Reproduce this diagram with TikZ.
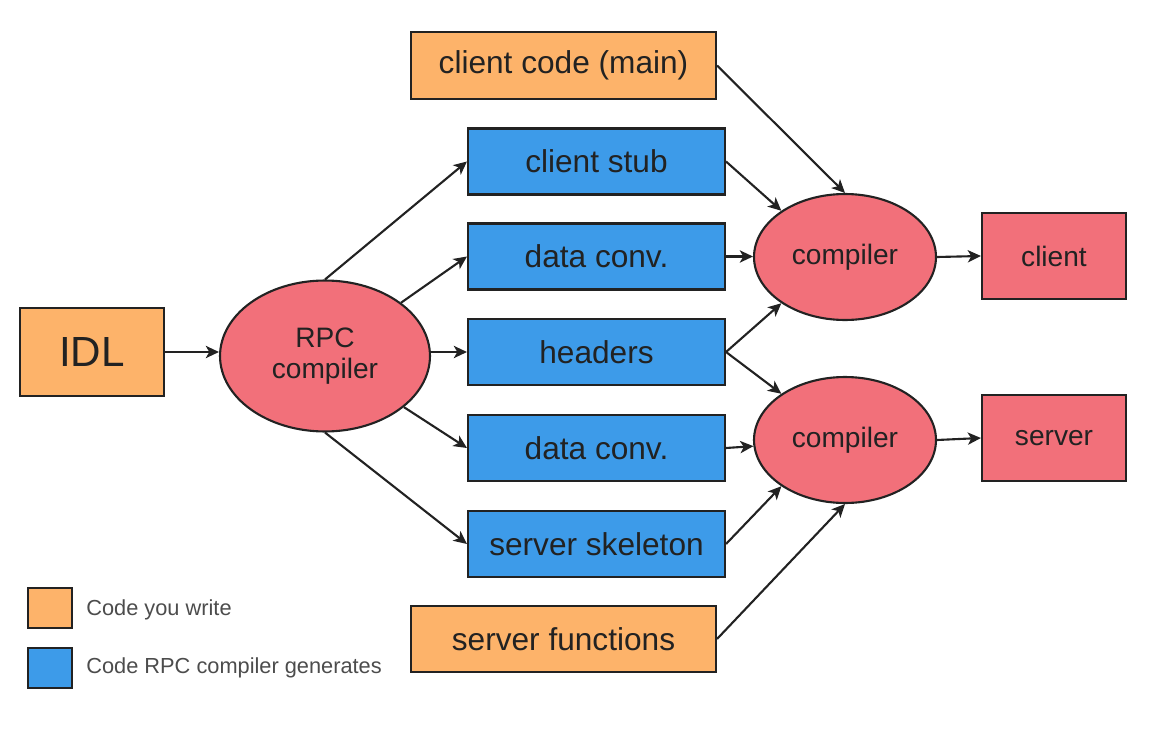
\documentclass[tikz,border=0pt]{standalone}
\usepackage{fontspec}
\setmainfont{Liberation Sans}
\usetikzlibrary{arrows.meta,shapes.geometric}
\definecolor{codeor}{HTML}{FDB36A}
\definecolor{genblue}{HTML}{3D9BE9}
\definecolor{compred}{HTML}{F2707A}
\definecolor{ink}{HTML}{222222}
\begin{document}
\begin{tikzpicture}[x=0.02cm,y=-0.02cm,
  box/.style={draw=ink,line width=1.2pt,inner sep=0pt,text=ink,font=\fontsize{18}{20}\selectfont},
  mine/.style={box,fill=codeor},
  gen/.style={box,fill=genblue,minimum width=5.14cm,minimum height=1.32cm},
  comp/.style={ellipse,draw=ink,line width=1.2pt,fill=compred,inner sep=0pt,text=ink,font=\fontsize{16}{19}\selectfont},
  outbox/.style={box,fill=compred,minimum width=2.88cm,minimum height=1.72cm,font=\fontsize{16}{19}\selectfont},
  legbox/.style={draw=ink,line width=1.2pt,minimum width=0.88cm,minimum height=0.8cm,inner sep=0pt},
  legtext/.style={anchor=west,inner sep=0pt,text=black!70,font=\fontsize{12.4}{14}\selectfont},
  arr/.style={draw=ink,line width=1.2pt,-{Stealth[length=7.5pt,width=7pt,inset=2pt]}}]
\useasboundingbox (0,0) rectangle (1150,747);
\node[mine,minimum width=6.1cm,minimum height=1.34cm] (code) at (563.5,65.5) {client code (main)};
\node[gen] (stub) at (596.5,161.5) {client stub};
\node[gen] (dc1) at (596.5,256.5) {data conv.};
\node[gen] (hdr) at (596.5,352) {headers};
\node[gen] (dc2) at (596.5,448) {data conv.};
\node[gen] (skel) at (596.5,544) {server skeleton};
\node[mine,minimum width=6.1cm,minimum height=1.32cm] (sfunc) at (563.5,639) {server functions};
\node[mine,minimum width=2.88cm,minimum height=1.76cm,font=\fontsize{24}{28}\selectfont] (idl) at (92,352) {IDL};
\node[comp,minimum width=4.2cm,minimum height=3.02cm,align=center] (rpc) at (325,356) {RPC\\[-1pt]compiler};
\node[comp,minimum width=3.64cm,minimum height=2.52cm] (comp1) at (845,257) {compiler};
\node[comp,minimum width=3.64cm,minimum height=2.52cm] (comp2) at (845,440) {compiler};
\node[outbox] (client) at (1054,256) {client};
\node[outbox] (server) at (1054,438) {server};
\node[legbox,fill=codeor] (leg1) at (50,608) {};
\node[legbox,fill=genblue] (leg2) at (50,668) {};
\node[legtext] (leg1t) at (86,610) {Code you write};
\node[legtext] (leg2t) at (86,668) {Code RPC compiler generates};
\draw[arr] (idl.east) -- (rpc.west |- idl.east);
\draw[arr] (rpc.north) -- (stub.west);
\draw[arr] (rpc) -- (dc1.west);
\draw[arr] (rpc.east |- hdr.west) -- (hdr.west);
\draw[arr] (rpc) -- (dc2.west);
\draw[arr] (rpc.south) -- (skel.west);
\draw[arr] (code.east) -- (comp1.north);
\draw[arr] (stub.east) -- (comp1.144);
\draw[arr] (dc1.east) -- (comp1.west |- dc1.east);
\draw[arr] (hdr.east) -- (comp1.216);
\draw[arr] (hdr.east) -- (comp2.144);
\draw[arr] (dc2.east) -- (comp2);
\draw[arr] (skel.east) -- (comp2.216);
\draw[arr] (sfunc.east) -- (comp2.south);
\draw[arr] (comp1.east) -- (client.west);
\draw[arr] (comp2.east) -- (server.west);
\end{tikzpicture}
\end{document}
